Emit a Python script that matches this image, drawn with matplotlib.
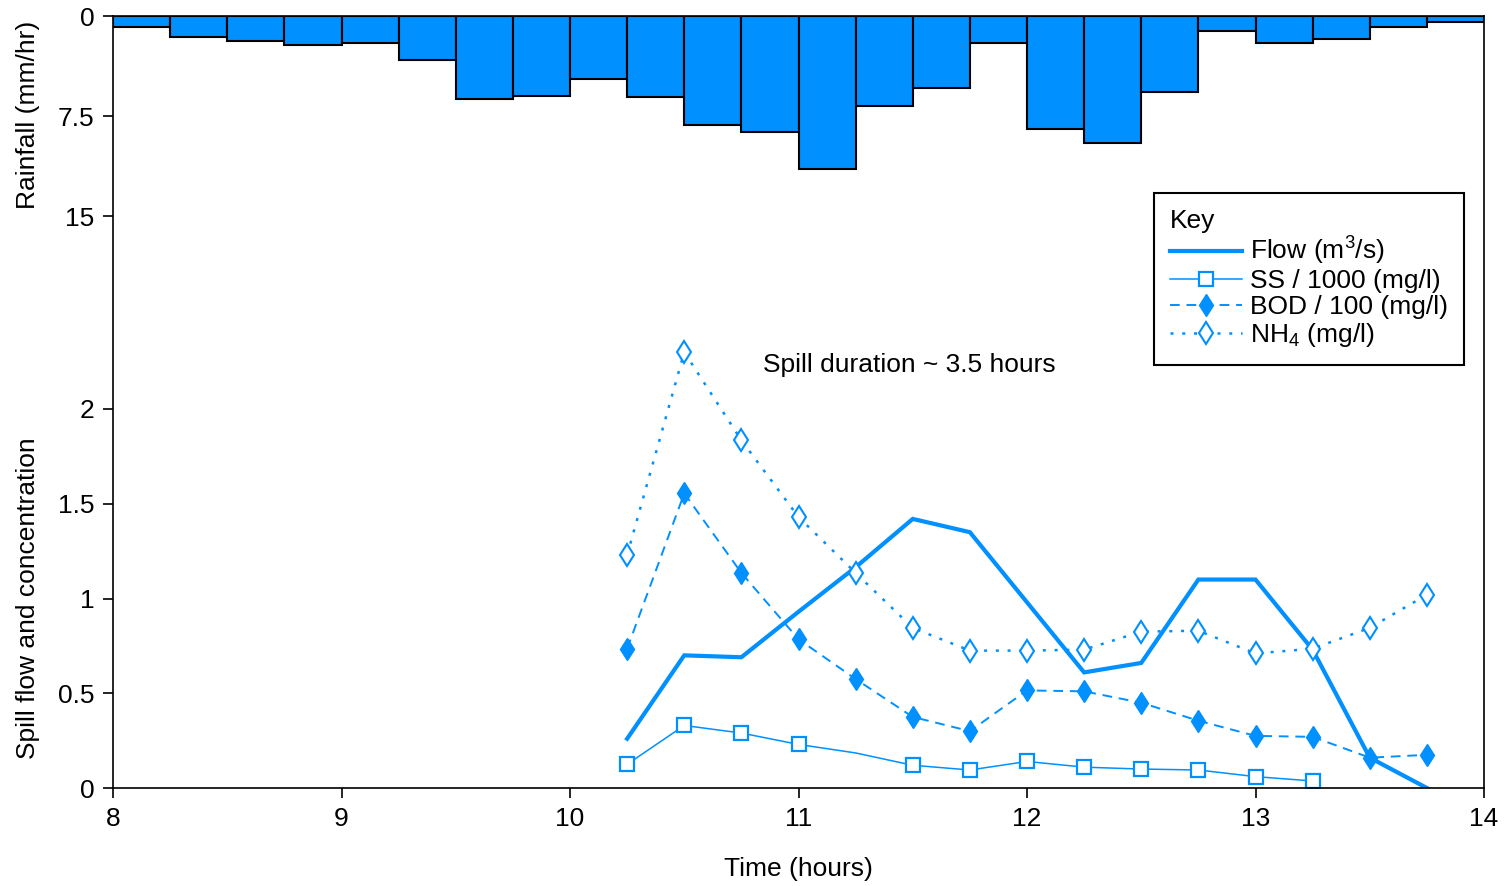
import numpy as np
import matplotlib
matplotlib.use('Agg')
import matplotlib.pyplot as plt

plt.rcParams['font.family'] = ['Liberation Sans', 'DejaVu Sans']
plt.rcParams['mathtext.default'] = 'regular'
plt.rcParams['font.size'] = 19

BLUE = '#0090ff'

# rainfall, 15 minute blocks starting at 8:00
rain_start = [8.0, 8.25, 8.5, 8.75, 9.0, 9.25, 9.5, 9.75, 10.0, 10.25, 10.5, 10.75,
              11.0, 11.25, 11.5, 11.75, 12.0, 12.25, 12.5, 12.75, 13.0, 13.25, 13.5, 13.75]
rain = [0.8, 1.6, 1.9, 2.2, 2.0, 3.3, 6.2, 6.0, 4.7, 6.1, 8.2, 8.7,
        11.5, 6.75, 5.4, 2.0, 8.5, 9.5, 5.7, 1.1, 2.0, 1.7, 0.85, 0.45]

# spill
flow_time = [10.25, 10.5, 10.75, 11.0, 11.25, 11.5, 11.75, 12.0, 12.25, 12.5, 12.75, 13.0, 13.25, 13.5, 13.75]
flow = [0.26, 0.70, 0.69, 0.93, 1.165, 1.42, 1.35, 0.98, 0.61, 0.66, 1.10, 1.10, 0.73, 0.16, 0.0]

ss_time = [10.25, 10.5, 10.75, 11.0, 11.25, 11.5, 11.75, 12.0, 12.25, 12.5, 12.75, 13.0, 13.25]
ss = [0.125, 0.33, 0.29, 0.23, 0.185, 0.12, 0.095, 0.14, 0.11, 0.10, 0.095, 0.06, 0.037]

bod_time = [10.25, 10.5, 10.75, 11.0, 11.25, 11.5, 11.75, 12.0, 12.25, 12.5, 12.75, 13.0, 13.25, 13.5, 13.75]
bod = [0.735, 1.555, 1.135, 0.785, 0.575, 0.375, 0.30, 0.515, 0.51, 0.45, 0.355, 0.275, 0.27, 0.16, 0.175]

nh4_time = [10.25, 10.5, 10.75, 11.0, 11.25, 11.5, 11.75, 12.0, 12.25, 12.5, 12.75, 13.0, 13.25, 13.5, 13.75]
nh4 = [1.23, 2.30, 1.835, 1.43, 1.135, 0.845, 0.725, 0.725, 0.73, 0.825, 0.83, 0.71, 0.735, 0.845, 1.02]

x_ticks = [8, 9, 10, 11, 12, 13, 14]
spill_ticks = [0, 0.5, 1, 1.5, 2]
rain_ticks = [0, 7.5, 15]
rain_ticklabels = ['0', '7.5', '15']

fig = plt.figure(figsize=(15.04, 8.86), dpi=100)
ax = fig.add_axes([113/1504, 1 - 788/886, (1484-113)/1504, (788-16)/886])

ax.set_xlim(8, 14)
ax.set_ylim(0, 772/379*2)
ax.set_xticks(x_ticks)
ax.set_yticks(spill_ticks)
ax.set_yticklabels(['0', '0.5', '1', '1.5', '2'])
ax.tick_params(direction='out', length=7, width=1.2, pad=6.5)
for s in ax.spines.values():
    s.set_linewidth(1.2)

### Rainfall (hanging from the top)
ax_r = ax.twinx()
ax_r.set_ylim(772/200*15, 0)
ax_r.yaxis.tick_left()
ax_r.set_yticks(rain_ticks)
ax_r.set_yticklabels(rain_ticklabels)
ax_r.tick_params(direction='out', length=7, width=1.2, pad=6.5)
for s in ax_r.spines.values():
    s.set_visible(False)
ax_r.bar(rain_start, rain, width=0.25, align='edge', color=BLUE,
         edgecolor='black', linewidth=1.5, zorder=2)

### Spill lines
ax.plot(flow_time, flow, color=BLUE, lw=3.0, solid_joinstyle='miter', label='Flow (m$^3$/s)')
ss_marks = [i for i, t in enumerate(ss_time) if t != 11.25]
ax.plot(ss_time, ss, color=BLUE, lw=1.1, marker='s', markersize=10,
        markerfacecolor='white', markeredgecolor=BLUE, markeredgewidth=1.6,
        markevery=ss_marks, label='SS / 1000 (mg/l)')
ax.plot(bod_time, bod, color=BLUE, lw=1.4, dashes=(5, 3.5), marker='d', markersize=11.5,
        markerfacecolor=BLUE, markeredgecolor=BLUE, label='BOD / 100 (mg/l)')
ax.plot(nh4_time, nh4, color=BLUE, lw=1.8, dashes=(1.2, 3.5), marker='d', markersize=11.5,
        markerfacecolor='white', markeredgecolor=BLUE, markeredgewidth=1.5,
        label='NH$_4$ (mg/l)')

ax.text(10.845, 2.232, 'Spill duration ~ 3.5 hours', ha='left', va='center')

leg = ax.legend(loc='upper right', bbox_to_anchor=((1464-113)/1371, (788-193)/772),
                borderaxespad=0, title='Key', alignment='left', fancybox=False,
                framealpha=1, edgecolor='black', handlelength=2.75, labelspacing=0.08,
                handletextpad=0.3, borderpad=0.6, numpoints=1)
leg.get_frame().set_linewidth(1.5)

ax.set_xlabel('Time (hours)')
ax.xaxis.set_label_coords(0.5, (788-857)/772)

fig.text(28/1504, 1 - 115/886, 'Rainfall (mm/hr)', rotation=90, ha='center', va='center')
fig.text(28/1504, 1 - 598/886, 'Spill flow and concentration', rotation=90, ha='center', va='center')

plt.savefig('out.png', dpi=100)
plt.close('all')
